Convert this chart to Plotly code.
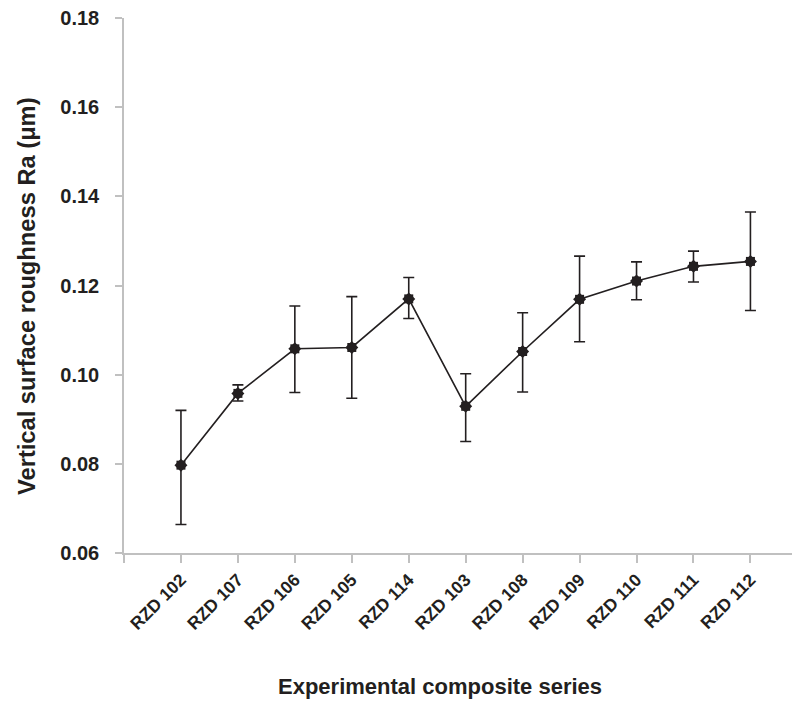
import plotly.graph_objects as go

categories = ["RZD 102", "RZD 107", "RZD 106", "RZD 105", "RZD 114", "RZD 103",
              "RZD 108", "RZD 109", "RZD 110", "RZD 111", "RZD 112"]
ra_mean = [0.0797, 0.0958, 0.1058, 0.1061, 0.1170, 0.0929, 0.1052, 0.1169, 0.1210, 0.1243, 0.1254]
ra_upper = [0.0920, 0.0977, 0.1154, 0.1175, 0.1218, 0.1002, 0.1139, 0.1266, 0.1253, 0.1277, 0.1365]
ra_lower = [0.0664, 0.0941, 0.0960, 0.0947, 0.1126, 0.0850, 0.0961, 0.1074, 0.1168, 0.1208, 0.1144]
y_ticks = [0.06, 0.08, 0.10, 0.12, 0.14, 0.16, 0.18]

x_idx = list(range(len(categories)))
err_plus = [u - m for u, m in zip(ra_upper, ra_mean)]
err_minus = [m - l for m, l in zip(ra_mean, ra_lower)]

INK = "#231f20"
GREY = "#c0c0c0"
FONT = "Liberation Sans, Arial, sans-serif"

PLOT_W = 668
PLOT_H = 535

fig = go.Figure()
fig.add_trace(go.Scatter(
    x=x_idx, y=ra_mean, mode="lines+markers",
    line=dict(color=INK, width=1.6),
    marker=dict(symbol="square", size=9, color=INK),
    error_y=dict(type="data", symmetric=False, array=err_plus, arrayminus=err_minus,
                 color=INK, thickness=1.6, width=5.5),
    showlegend=False, hoverinfo="skip",
))
fig.add_trace(go.Scatter(
    x=x_idx, y=ra_mean, mode="markers",
    marker=dict(symbol="diamond", size=10, color=INK),
    showlegend=False, hoverinfo="skip",
))

fig.update_layout(
    width=792, height=706,
    margin=dict(l=124, r=0, t=18, b=153),
    plot_bgcolor="white", paper_bgcolor="white",
    font=dict(family=FONT, color=INK),
    annotations=[
        dict(text="Vertical surface roughness Ra (μm)", xref="paper", yref="paper",
             x=(27 - 124) / PLOT_W, y=(553 - 296) / PLOT_H, xanchor="center", yanchor="middle",
             textangle=-90, showarrow=False,
             font=dict(family=FONT, size=23.7, color=INK, weight="bold")),
        dict(text="Experimental composite series", xref="paper", yref="paper",
             x=(440 - 124) / PLOT_W, y=(553 - 686) / PLOT_H, xanchor="center", yanchor="middle",
             showarrow=False,
             font=dict(family=FONT, size=22, color=INK, weight="bold")),
    ],
)

fig.update_xaxes(
    range=[-1, 10.73],
    tickmode="array", tickvals=[-1] + x_idx, ticktext=[""] + categories,
    tickangle=-45, ticks="outside", ticklen=8, tickcolor=GREY, tickwidth=1.5,
    showline=True, linecolor=GREY, linewidth=1.5,
    showgrid=False, zeroline=False,
    tickfont=dict(family=FONT, size=17.5, color=INK, weight="bold"),
)
fig.update_yaxes(
    range=[0.06, 0.18],
    tickmode="array", tickvals=y_ticks, tickformat=".2f",
    ticks="outside", ticklen=7, tickcolor=GREY, tickwidth=1.5,
    showline=True, linecolor=GREY, linewidth=1.5,
    showgrid=False, zeroline=False,
    ticklabelstandoff=12,
    tickfont=dict(family=FONT, size=20, color=INK, weight="bold"),
)

fig.write_html("out.html", config={"displayModeBar": False},
               post_script="document.body.style.margin='0';")
